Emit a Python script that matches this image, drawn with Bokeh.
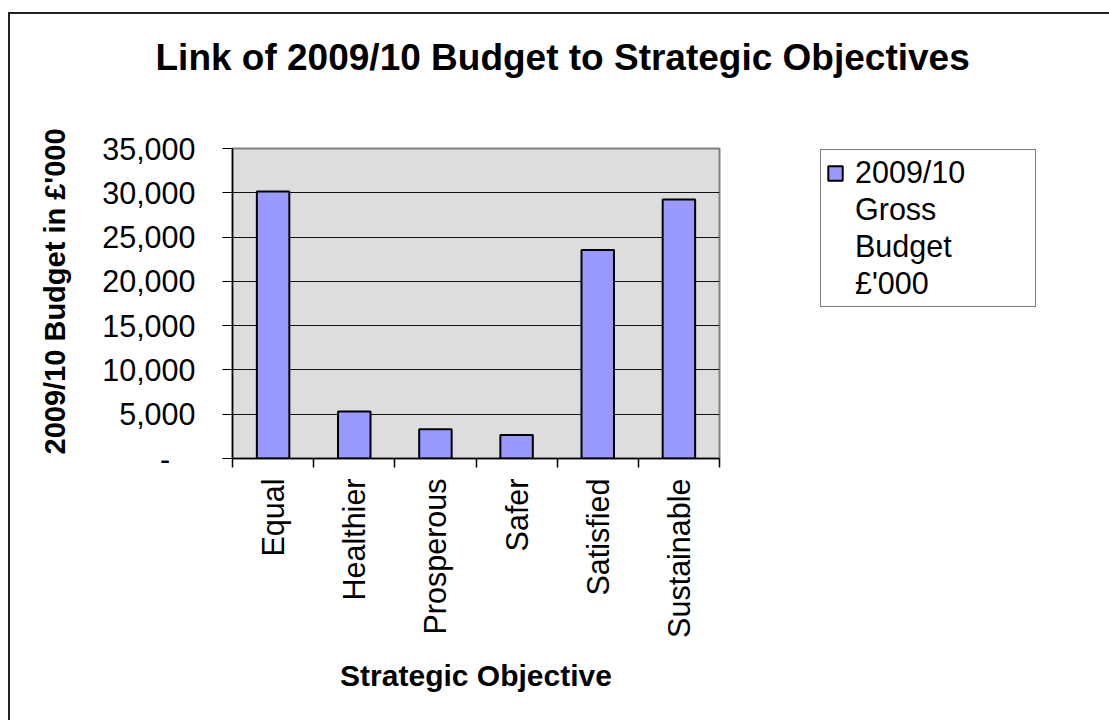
import numpy as np
from bokeh.plotting import figure
from bokeh.models import Range1d, FixedTicker, NumeralTickFormatter, Legend, LegendItem, Title
from bokeh.embed import file_html
from bokeh.resources import INLINE

# ---- data ----
categories = ["Equal", "Healthier", "Prosperous", "Safer", "Satisfied", "Sustainable"]
budget = [30150, 5300, 3300, 2650, 23550, 29250]
y_ticks = [0, 5000, 10000, 15000, 20000, 25000, 30000, 35000]
series_lines = ["2009/10", "Gross", "Budget", "£'000"]   # legend label, one entry per line
title_text = "Link of 2009/10 Budget to Strategic Objectives"
y_label = "2009/10 Budget in £'000"
x_label = "Strategic Objective"

FONT = "Liberation Sans"
REG = "30.5px"

n = len(categories)
centers = [i + 0.5 for i in range(n)]
bounds = list(range(n + 1))

p = figure(
    frame_width=487, frame_height=310,
    output_backend="svg", toolbar_location=None,
    x_range=Range1d(0, n), y_range=Range1d(0, 35000),
    min_border_left=222, min_border_right=0,
    min_border_top=134, min_border_bottom=262,
    background_fill_color="#DDDDDD", border_fill_color="white",
    outline_line_color="#808080", outline_line_width=2,
    margin=(12, 0, 0, 8),
    styles={"border-top": "2px solid #222", "border-left": "2px solid #222"},
    title=None,
)

# spacer (nearest the frame) then the real title above it
spacer = Title(text="\u00a0", text_font_size="1px", standoff=68)
p.add_layout(spacer, "above")
title = Title(text=title_text, text_font=FONT, text_font_size="37px",
              text_font_style="bold", text_color="black",
              align="left", offset=-77, standoff=0)
p.add_layout(title, "above")

r = p.vbar(x=centers, top=budget, width=0.4, fill_color="#9999FF",
           line_color="black", line_width=2)
# invisible renderer used only to give the continuation lines of the legend label
blank = p.scatter(x=[], y=[], marker="square", fill_alpha=0, line_alpha=0)

# grid
p.xgrid.visible = False
p.ygrid.ticker = FixedTicker(ticks=y_ticks)
p.ygrid.grid_line_color = "#111111"
p.ygrid.grid_line_width = 1

# y axis
ya = p.yaxis[0]
ya.ticker = FixedTicker(ticks=y_ticks)
ya.formatter = NumeralTickFormatter(format="0,0")
ya.major_label_overrides = {0: "-\u00a0\u00a0\u00a0"}
ya.major_tick_out = 10
ya.major_tick_in = 0
ya.minor_tick_line_color = None
ya.major_tick_line_color = "black"
ya.axis_line_color = "black"
ya.axis_line_width = 1.5
ya.major_label_standoff = 27
ya.major_label_text_font = FONT
ya.major_label_text_font_size = REG
ya.major_label_text_color = "black"
ya.axis_label = "\u00a0\u00a0\u00a0" + y_label
ya.axis_label_text_font = FONT
ya.axis_label_text_font_size = "29px"
ya.axis_label_text_font_style = "bold"
ya.axis_label_text_color = "black"
ya.axis_label_standoff = 28

# x axis
xa = p.xaxis[0]
xa.ticker = FixedTicker(ticks=centers, minor_ticks=bounds)
xa.major_label_overrides = {c: cat for c, cat in zip(centers, categories)}
xa.major_label_orientation = np.pi / 2
xa.major_tick_out = 0
xa.major_tick_in = 0
xa.major_tick_line_color = None
xa.minor_tick_out = 9
xa.minor_tick_in = 0
xa.minor_tick_line_color = "black"
xa.minor_tick_line_width = 1.5
xa.axis_line_color = "black"
xa.axis_line_width = 1.5
xa.major_label_standoff = 11
xa.major_label_text_font = FONT
xa.major_label_text_font_size = REG
xa.major_label_text_color = "black"
xa.axis_label = x_label
xa.axis_label_text_font = FONT
xa.axis_label_text_font_size = "30px"
xa.axis_label_text_font_style = "bold"
xa.axis_label_text_color = "black"
xa.axis_label_standoff = 18

items = [LegendItem(label=series_lines[0], renderers=[r])]
items += [LegendItem(label=t, renderers=[blank]) for t in series_lines[1:]]
legend = Legend(
    items=items,
    location=(101, 151),
    border_line_color="black", border_line_width=1,
    background_fill_color="white", background_fill_alpha=1,
    padding=5, spacing=2, margin=0,
    label_standoff=11, glyph_width=18, glyph_height=18,
    label_text_font=FONT, label_text_font_size=REG,
    label_text_color="black", label_width=175,
)
p.add_layout(legend, "right")

open("out.html", "w").write(file_html(p, INLINE))
